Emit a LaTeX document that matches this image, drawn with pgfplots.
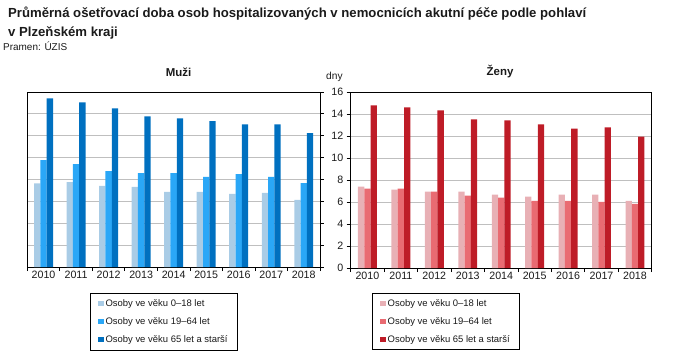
\documentclass[border=0pt]{standalone}
\usepackage{pgfplots}
\pgfplotsset{compat=1.18}
\usepackage{fontspec}
\setmainfont{Liberation Sans}
\definecolor{mA}{HTML}{A9CCE6}
\definecolor{mB}{HTML}{2AA7F7}
\definecolor{mC}{HTML}{0070C0}
\definecolor{zA}{HTML}{E8B0B5}
\definecolor{zB}{HTML}{E96B72}
\definecolor{zC}{HTML}{BE1C27}
\definecolor{gridc}{HTML}{BFBFBF}
\definecolor{txt}{HTML}{1A1A1A}
\pgfplotsset{
  base/.style={
    scale only axis,
    ymin=0, ymax=16, ytick={0,2,...,16},
    xmin=-0.5, xmax=8.5,
    xtick={-0.5,0.5,...,8.5}, xticklabels={},
    extra x ticks={0,1,2,3,4,5,6,7,8},
    extra x tick labels={2010,2011,2012,2013,2014,2015,2016,2017,2018},
    extra x tick style={major tick length=0pt, grid=none},
    xtick pos=bottom,
    tick align=outside,
    major tick length=4bp,
    tick style={black, line width=0.8bp},
    ymajorgrids, grid style={gridc, line width=0.8bp},
    ybar=0pt, bar width=6.3bp,
    axis line style={black, line width=0.9bp},
    tick label style={font=\fontsize{10.7}{12}\selectfont, text=txt},
    /pgf/number format/assume math mode=true,
    xticklabel style={yshift=-1bp},
    every axis plot/.append style={draw=none},
    legend image code/.code={\fill[##1] (0bp,-2.6bp) rectangle (5.2bp,2.6bp);},
    legend cell align=left,
    legend style={anchor=north west, draw=black, line width=0.8bp,
      font=\fontsize{9.5}{11}\selectfont, text=txt,
      inner xsep=8bp, inner ysep=4bp, row sep=5.6bp,
      nodes={inner sep=2bp},
      /tikz/every even column/.append style={column sep=2.5bp}},
  }
}
\begin{document}
\begin{tikzpicture}
\useasboundingbox (0,0) rectangle (698bp,-360bp);
\node[anchor=base west, inner sep=0, font=\fontsize{13.2}{15}\selectfont\bfseries, text=txt] at (8bp,-17bp) {Průměrná ošetřovací doba osob hospitalizovaných v nemocnicích akutní péče podle pohlaví};
\node[anchor=base west, inner sep=0, font=\fontsize{13.2}{15}\selectfont\bfseries, text=txt] at (8bp,-36bp) {v Plzeňském kraji};
\node[anchor=base west, inner sep=0, font=\fontsize{10}{12}\selectfont, text=txt] at (3bp,-50bp) {Pramen: ÚZIS};
\node[inner sep=0, font=\fontsize{11.5}{13}\selectfont\bfseries, text=txt] at (178.5bp,-72bp) {Muži};
\node[inner sep=0, font=\fontsize{11.5}{13}\selectfont\bfseries, text=txt] at (500bp,-72bp) {Ženy};
\node[anchor=base west, inner sep=0, font=\fontsize{10.2}{12}\selectfont, text=txt] at (326bp,-79bp) {dny};

\begin{axis}[base, at={(27.3bp,-267bp)}, anchor=south west,
  width=292.7bp, height=175bp,
  ytick pos=right, yticklabels={},
  legend style={at={(axis description cs:0.214,-0.149)}}]
\addplot[fill=mA] coordinates {(0,7.65) (1,7.77) (2,7.41) (3,7.32) (4,6.86) (5,6.86) (6,6.68) (7,6.77) (8,6.13)};
\addplot[fill=mB] coordinates {(0,9.78) (1,9.41) (2,8.77) (3,8.59) (4,8.59) (5,8.23) (6,8.50) (7,8.23) (8,7.68)};
\addplot[fill=mC] coordinates {(0,15.42) (1,15.06) (2,14.51) (3,13.78) (4,13.60) (5,13.33) (6,13.05) (7,13.05) (8,12.23)};
\legend{Osoby ve věku 0–18 let, Osoby ve věku 19–64 let, Osoby ve věku 65 let a starší}
\end{axis}

\begin{axis}[base, at={(350.7bp,-268bp)}, anchor=south west,
  width=301bp, height=176bp,
  ytick pos=left,
  legend style={at={(axis description cs:0.071,-0.142)}}]
\addplot[fill=zA] coordinates {(0,7.39) (1,7.12) (2,6.94) (3,6.94) (4,6.66) (5,6.48) (6,6.66) (7,6.66) (8,6.11)};
\addplot[fill=zB] coordinates {(0,7.21) (1,7.21) (2,6.94) (3,6.57) (4,6.39) (5,6.11) (6,6.11) (7,6.02) (8,5.84)};
\addplot[fill=zC] coordinates {(0,14.78) (1,14.60) (2,14.33) (3,13.51) (4,13.41) (5,13.05) (6,12.68) (7,12.78) (8,11.95)};
\legend{Osoby ve věku 0–18 let, Osoby ve věku 19–64 let, Osoby ve věku 65 let a starší}
\end{axis}
\end{tikzpicture}
\end{document}
